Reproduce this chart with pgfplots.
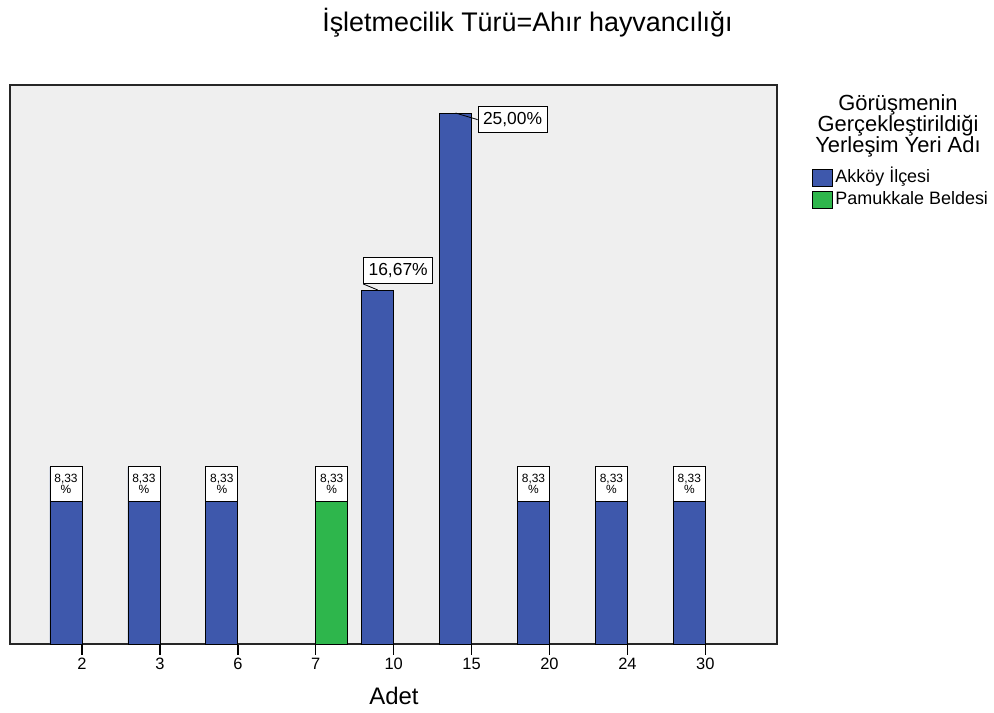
\documentclass[border=0pt]{standalone}
\usepackage{pgfplots}
\pgfplotsset{compat=1.18}
\usepackage{fontspec}
\setmainfont{Liberation Sans}
\definecolor{akblue}{RGB}{62,88,172}
\definecolor{pgreen}{RGB}{46,182,76}
\definecolor{bgray}{RGB}{239,239,239}
\begin{document}
\begin{tikzpicture}[x=1bp,y=1bp]
\path[use as bounding box] (0,0) rectangle (994,713);
\begin{axis}[
  at={(10bp,69bp)}, anchor=south west,
  width=767bp, height=559bp, scale only axis,
  xmin=-0.924, xmax=8.92, ymin=0, ymax=26.32,
  clip=false,
  axis background/.style={fill=bgray},
  axis line style={black!85, line width=1.5bp},
  ytick=\empty,
  xtick={0,...,8},
  xticklabels={2,3,6,7,10,15,20,24,30},
  xtick pos=bottom, tick align=outside,
  major tick length=11bp,
  every tick/.style={black, line width=1.5bp},
  xticklabel style={font=\fontsize{16.5}{18}\selectfont},
  xlabel={Adet},
  xlabel style={font=\fontsize{24}{26}\selectfont, at={(axis description cs:0.5007,-0.109)}, anchor=base},
  ybar, bar width=32bp,
  legend style={at={(axis description cs:1.0456,0.853)}, anchor=north west, draw=none, fill=none, inner sep=0pt,
    font=\fontsize{18}{20}\selectfont, row sep=0pt,
    nodes={inner sep=2.5bp, text height=13bp, text depth=4bp}},
  legend cell align=left,
]
% Akköy, 8.33 % bars
\addplot[fill=akblue, draw=black, line width=0.8bp, bar shift=-16bp, forget plot,
  nodes near coords={8,33\\\%},
  every node near coord/.append style={fill=white, draw=black, line width=0.8bp, align=center,
    minimum width=32bp, minimum height=35bp, inner sep=0pt, yshift=-35bp,
    font=\fontsize{12}{11}\selectfont}]
  coordinates {(0,8.33) (1,8.33) (2,8.33) (6,8.33) (7,8.33) (8,8.33)};
% Akköy, 16.67 %
\addplot[fill=akblue, draw=black, line width=0.8bp, bar shift=-16bp, forget plot,
  nodes near coords={16,67\%},
  every node near coord/.append style={fill=white, draw=black, line width=0.8bp,
    inner xsep=5bp, inner ysep=5bp, text height=13bp, text depth=3bp, xshift=20.5bp, yshift=6bp,
    font=\fontsize{17.5}{19}\selectfont,
    append after command={([xshift=-20.5bp,yshift=-6bp]\tikzlastnode.south) edge[draw=black, line width=0.8bp] (\tikzlastnode.south west)}}]
  coordinates {(4,16.67)};
% Akköy, 25 %
\addplot[fill=akblue, draw=black, line width=0.8bp, bar shift=-16bp, forget plot,
  nodes near coords={25,00\%},
  every node near coord/.append style={fill=white, draw=black, line width=0.8bp,
    inner xsep=5bp, inner ysep=5bp, text height=13bp, text depth=3bp, xshift=57bp, yshift=-20bp,
    font=\fontsize{17.5}{19}\selectfont,
    append after command={([xshift=-57bp,yshift=20bp]\tikzlastnode.south) edge[draw=black, line width=0.8bp] (\tikzlastnode.west)}}]
  coordinates {(5,25.00)};
% Pamukkale
\addplot[fill=pgreen, draw=black, line width=0.8bp, bar shift=16bp, forget plot,
  nodes near coords={8,33\\\%},
  every node near coord/.append style={fill=white, draw=black, line width=0.8bp, align=center,
    minimum width=32bp, minimum height=35bp, inner sep=0pt, yshift=-35bp,
    font=\fontsize{12}{11}\selectfont}]
  coordinates {(3,8.33)};
\addlegendimage{legend image code/.code={\draw[fill=akblue, draw=black, line width=0.8bp] (0bp,-8.5bp) rectangle (20bp,8.5bp);}}
\addlegendentry{Akköy İlçesi}
\addlegendimage{legend image code/.code={\draw[fill=pgreen, draw=black, line width=0.8bp] (0bp,-8.5bp) rectangle (20bp,8.5bp);}}
\addlegendentry{Pamukkale Beldesi}
\end{axis}
\node[anchor=base, font=\fontsize{27}{30}\selectfont] at (527.5,681) {İşletmecilik Türü=Ahır hayvancılığı};
\node[anchor=base, font=\fontsize{22}{24}\selectfont] at (898,602) {Görüşmenin};
\node[anchor=base, font=\fontsize{22}{24}\selectfont] at (898,581) {Gerçekleştirildiği};
\node[anchor=base, font=\fontsize{22}{24}\selectfont] at (898,560) {Yerleşim Yeri Adı};
\end{tikzpicture}
\end{document}
